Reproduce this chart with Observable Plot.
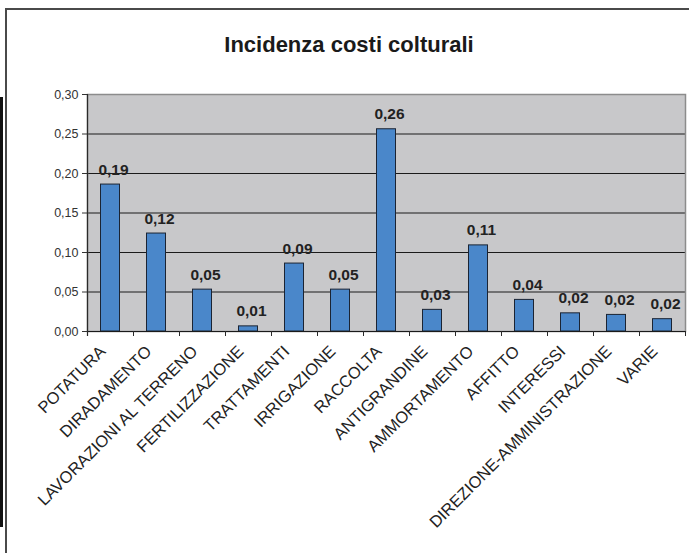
<!DOCTYPE html>
<html><head><meta charset="utf-8">
<script src="https://cdn.jsdelivr.net/npm/d3@7"></script>
<script src="https://cdn.jsdelivr.net/npm/@observablehq/plot@0.6"></script>
<style>
body{margin:0;background:#fff;font-family:"Liberation Sans",Arial,sans-serif;}
#wrap{position:relative;width:689px;height:553px;overflow:hidden;}
#frame{position:absolute;left:5px;top:8px;width:720px;height:620px;border-left:2px solid #4a4a4a;border-top:2px solid #4a4a4a;}
#blackbar{position:absolute;left:0;top:97px;width:3px;height:430px;background:#111;}
#title{position:absolute;left:0;top:34px;width:698px;text-align:center;font-size:22px;line-height:22px;font-weight:bold;color:#1a1a1a;}
#chart{position:absolute;left:0;top:70px;}
</style>
</head><body>
<div id="wrap">
  <div id="frame"></div>
  <div id="blackbar"></div>
  <div id="title">Incidenza costi colturali</div>
  <div id="chart"></div>
</div>
<script>
const categories = ["POTATURA","DIRADAMENTO","LAVORAZIONI AL TERRENO","FERTILIZZAZIONE","TRATTAMENTI","IRRIGAZIONE","RACCOLTA","ANTIGRANDINE","AMMORTAMENTO","AFFITTO","INTERESSI","DIREZIONE-AMMINISTRAZIONE","VARIE"];
const values = [0.186,0.124,0.053,0.0065,0.086,0.053,0.256,0.0274,0.109,0.040,0.023,0.021,0.0156];
const yTicks = [0,0.05,0.10,0.15,0.20,0.25,0.30];

const data = categories.map((c,i)=>({cat:c, value:values[i]}));
const locale = d3.formatLocale({decimal:",", thousands:".", grouping:[3], currency:["","€"]});
const fmt = locale.format(".2f");

const W = 689, H = 483, mL = 87, mR = 4, mT = 24, mB = 222;
const bw = (W - mL - mR) / categories.length;
const plotH = H - mT - mB;

const chart = Plot.plot({
  width: W, height: H,
  marginLeft: mL, marginRight: mR, marginTop: mT, marginBottom: mB,
  style: {fontFamily: "Liberation Sans, Arial, sans-serif", background: "transparent", overflow: "visible"},
  x: {domain: categories, padding: 0, axis: null},
  y: {domain: [0, 0.30], axis: null},
  marks: [
    Plot.frame({fill: "#c8c8ca"}),
    Plot.ruleY(yTicks.filter(v => v > 0 && v < 0.30), {stroke: "#1a1a1a", strokeWidth: 1}),
    Plot.frame({stroke: "#8c8c8c", strokeWidth: 1.5}),
    Plot.barY(data, {x: "cat", y: "value", fill: "#4a87ca", stroke: "#1b2433", strokeWidth: 1, insetLeft: 13.5, insetRight: 13.5}),
    Plot.ruleY([0], {stroke: "#1a1a1a", strokeWidth: 1.2}),
    Plot.tickX([categories[0]], {x: d => d, dx: -bw/2, stroke: "#2a2a2a", strokeWidth: 1.2, insetBottom: -5}),
    Plot.tickX(categories, {x: d => d, dx: -bw/2, stroke: "#2a2a2a", insetTop: plotH, insetBottom: -5}),
    Plot.tickX([categories[categories.length-1]], {x: d => d, dx: bw/2, stroke: "#2a2a2a", insetTop: plotH, insetBottom: -5}),
    Plot.axisY(yTicks, {label: null, tickSize: 5, tickPadding: 4, tickFormat: fmt, fontSize: 12.5, color: "#333"}),
    Plot.text(data, {x: "cat", y: "value", text: d => fmt(d.value), dy: -10, dx: 3, lineAnchor: "bottom", fontWeight: "bold", fontSize: 15.5, fill: "#222"}),
    Plot.text(categories, {x: d => d, frameAnchor: "bottom", text: d => d, rotate: -45, textAnchor: "end", lineAnchor: "bottom", dx: -4, dy: 21, fontSize: 16.5, fill: "#222"})
  ]
});
document.getElementById("chart").appendChild(chart);
</script>
</body></html>
